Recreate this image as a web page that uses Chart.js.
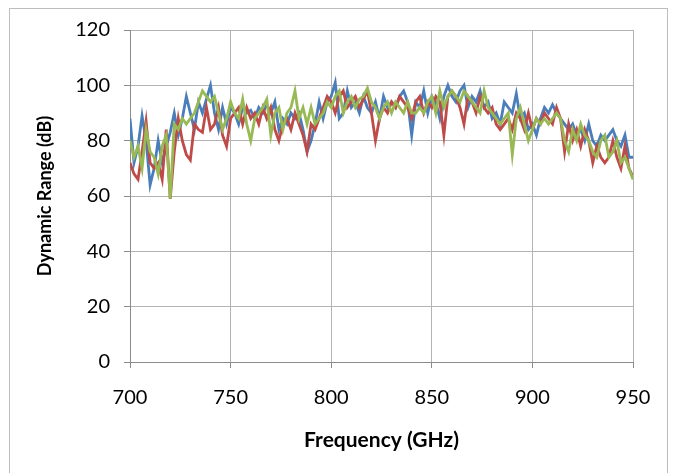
<!DOCTYPE html>
<html>
<head>
    <meta charset="utf-8" />
    <script src="https://cdn.jsdelivr.net/npm/chart.js"></script>
    <title>Dynamic Range</title>
    <style>
        html, body { margin: 0; padding: 0; background: #fff; }
        #wrap { width: 676px; height: 473px; position: relative; }
    </style>
</head>
<body>
    <div id="wrap">
        <canvas id="c1" width="676" height="473"></canvas>
    </div>
    <script>
        "use strict";

        // frequency axis, GHz (2 GHz step)
        let freqStart = 700;
        let freqStep = 2;

        let blueValues = [
            88, 72, 78, 89, 80, 64, 70, 80, 72, 78,
            83, 90, 82, 88, 96, 90, 84, 94, 90, 95,
            100, 90, 84, 92, 86, 92, 90, 86, 92, 90,
            91, 88, 92, 90, 93, 90, 94, 84, 88, 86,
            90, 88, 90, 84, 76, 80, 86, 94, 88, 94,
            96, 101, 88, 90, 98, 92, 94, 90, 96, 92,
            90, 94, 88, 96, 92, 94, 92, 96, 98, 94,
            82, 94, 92, 98, 90, 96, 94, 88, 96, 100,
            96, 94, 98, 100, 92, 96, 94, 98, 92, 94,
            88, 90, 86, 94, 92, 90, 97, 88, 90, 84,
            86, 82, 88, 92, 90, 93, 90, 88, 86, 84,
            86, 82, 84, 80, 86, 80, 78, 82, 80, 82,
            84, 80, 78, 82, 74, 74
        ];

        let redValues = [
            72, 68, 66, 76, 87, 72, 70, 72, 66, 84,
            59, 76, 88, 80, 75, 73, 86, 84, 83, 92,
            84, 86, 92, 82, 78, 88, 90, 92, 86, 92,
            88, 90, 86, 92, 88, 92, 84, 80, 86, 88,
            84, 90, 86, 82, 76, 86, 84, 88, 92, 96,
            94, 90, 96, 98, 92, 94, 96, 92, 95, 98,
            90, 80, 88, 92, 90, 94, 92, 96, 94, 92,
            88, 94, 96, 90, 94, 92, 96, 94, 82, 96,
            98, 96, 92, 86, 96, 94, 90, 96, 92, 90,
            92, 86, 84, 86, 88, 84, 90, 88, 84, 90,
            84, 88, 86, 90, 88, 86, 92, 88, 76, 86,
            80, 84, 78, 84, 80, 72, 78, 74, 72, 74,
            80, 74, 70, 78, 70, 67
        ];

        let greenValues = [
            80, 74, 78, 70, 84, 76, 74, 68, 78, 82,
            59, 86, 84, 88, 86, 88, 90, 94, 98, 96,
            94, 96, 90, 84, 88, 94, 90, 88, 95, 86,
            80, 88, 90, 92, 95, 82, 90, 92, 84, 90,
            92, 98, 88, 92, 86, 92, 86, 88, 90, 94,
            92, 96, 98, 90, 94, 96, 92, 95, 96, 99,
            94, 92, 88, 92, 94, 90, 94, 92, 90, 94,
            90, 90, 92, 90, 94, 96, 90, 98, 92, 96,
            98, 96, 94, 98, 96, 94, 92, 90, 98, 92,
            90, 88, 86, 88, 90, 75, 88, 92, 86, 80,
            84, 88, 86, 88, 86, 88, 90, 88, 80, 76,
            84, 80, 86, 82, 80, 76, 74, 80, 82, 74,
            76, 80, 72, 74, 70, 66
        ];

        let xTicks = [700, 750, 800, 850, 900, 950];
        let yTicks = [0, 20, 40, 60, 80, 100, 120];

        function ToPoints(values)
        {
            return values.map((v, i) => ({ x: freqStart + i * freqStep, y: v }));
        }

        let frame = {
            id: "frame",
            beforeDraw(chart)
            {
                let ctx = chart.ctx;
                ctx.save();
                ctx.strokeStyle = "#bdbdbd";
                ctx.lineWidth = 1;
                ctx.strokeRect(9.5, 8.5, 658, 470);
                ctx.restore();
            }
        };

        let fontFam = "Lato, 'Open Sans', sans-serif";

        let c1 = document.querySelector("#c1");
        let chart1 = new Chart(c1, {
            type: "line",
            data: {
                datasets: [
                    // order: green drawn on top, blue at the bottom
                    { label: "blue", data: ToPoints(blueValues), borderColor: "#4a7ebb", borderWidth: 2.8, order: 2 },
                    { label: "red", data: ToPoints(redValues), borderColor: "#be4b48", borderWidth: 2.8, order: 1 },
                    { label: "green", data: ToPoints(greenValues), borderColor: "#98b954", borderWidth: 2.8, order: 0 }
                ]
            },
            options: {
                responsive: false,
                animation: false,
                events: [],
                elements: { point: { radius: 0 }, line: { tension: 0 } },
                layout: { padding: { top: 30, right: 43, left: 0, bottom: 0 } },
                plugins: { legend: { display: false }, tooltip: { enabled: false } },
                scales: {
                    x: {
                        type: "linear",
                        min: 700,
                        max: 950,
                        afterBuildTicks: (axis) => { axis.ticks = xTicks.map(v => ({ value: v })); },
                        afterFit: (axis) => { axis.height = 111; },
                        grid: { color: "#b3b3b3", tickColor: "#8c8c8c", tickLength: 6 },
                        border: { color: "#8c8c8c" },
                        ticks: { color: "#000", padding: 18, font: { family: fontFam, size: 20 } },
                        title: {
                            display: true,
                            text: "Frequency (GHz)",
                            color: "#000",
                            font: { family: fontFam, size: 21, weight: "bold" },
                            padding: { top: 0, bottom: 20 }
                        }
                    },
                    y: {
                        min: 0,
                        max: 120,
                        afterBuildTicks: (axis) => { axis.ticks = yTicks.map(v => ({ value: v })); },
                        afterFit: (axis) => { axis.width = 130; },
                        grid: { color: "#b3b3b3", tickColor: "#8c8c8c", tickLength: 6 },
                        border: { color: "#8c8c8c" },
                        ticks: { color: "#000", padding: 14, font: { family: fontFam, size: 20 } },
                        title: {
                            display: true,
                            text: "Dynamic Range (dB)",
                            color: "#000",
                            font: { family: fontFam, size: 18, weight: "bold" },
                            padding: { top: 34, bottom: 0 }
                        }
                    }
                }
            },
            plugins: [frame]
        });
    </script>
</body>
</html>
